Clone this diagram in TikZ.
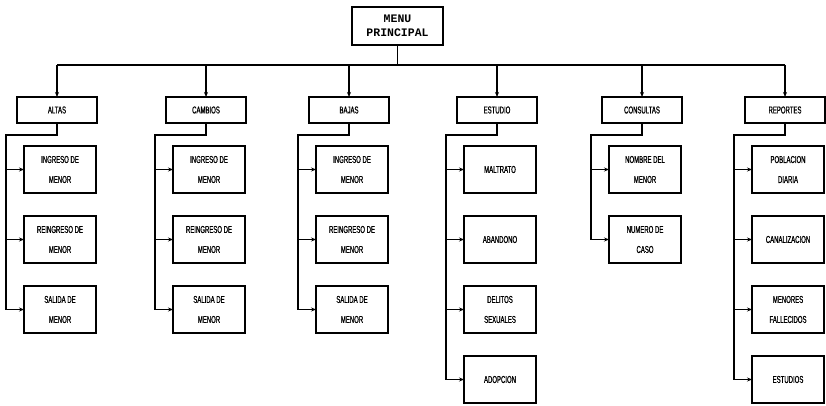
\documentclass[tikz,border=0pt]{standalone}
\usepackage{fontspec}
\newfontfamily\menufont{Liberation Mono}
\newfontfamily\boxfont[FakeStretch=0.6,FakeBold=1]{Liberation Sans}
\usetikzlibrary{arrows.meta, positioning, calc}

\begin{document}
\begin{tikzpicture}[x=1pt,y=1pt,>={Stealth[length=5pt,width=4pt]},node distance=23pt,
every node/.style={draw,line width=1.6pt,align=center,inner sep=0pt,outer sep=0pt},
top/.style={minimum width=80pt,minimum height=26pt,font=\boxfont\fontsize{10}{12}\selectfont},
sub/.style={minimum width=72pt,minimum height=47pt,font=\boxfont\fontsize{10}{20}\selectfont},
conn/.style={line width=1.1pt},
]
\useasboundingbox (0,0) rectangle (826,-406);

\node[minimum width=91pt,minimum height=38pt,font=\menufont\bfseries\fontsize{11.5}{13.5}\selectfont] (nMenu) at (397.5,-26) {MENU\\PRINCIPAL};

\node[top] (nAltas) at (57,-110) {ALTAS};
\node[top] (nCambios) at (206,-110) {CAMBIOS};
\node[top] (nBajas) at (349,-110) {BAJAS};
\node[top] (nEstudio) at (497,-110) {ESTUDIO};
\node[top] (nConsultas) at (642,-110) {CONSULTAS};
\node[top] (nReportes) at (785,-110) {REPORTES};

\node[sub, below=of nAltas, xshift=3pt] (nAltas1) {INGRESO DE\\MENOR};
\node[sub, below=of nAltas1] (nAltas2) {REINGRESO DE\\MENOR};
\node[sub, below=of nAltas2] (nAltas3) {SALIDA DE\\MENOR};

\node[sub, below=of nCambios, xshift=3pt] (nCambios1) {INGRESO DE\\MENOR};
\node[sub, below=of nCambios1] (nCambios2) {REINGRESO DE\\MENOR};
\node[sub, below=of nCambios2] (nCambios3) {SALIDA DE\\MENOR};

\node[sub, below=of nBajas, xshift=3pt] (nBajas1) {INGRESO DE\\MENOR};
\node[sub, below=of nBajas1] (nBajas2) {REINGRESO DE\\MENOR};
\node[sub, below=of nBajas2] (nBajas3) {SALIDA DE\\MENOR};

\node[sub, below=of nEstudio, xshift=3pt] (nEstudio1) {MALTRATO};
\node[sub, below=of nEstudio1] (nEstudio2) {ABANDONO};
\node[sub, below=of nEstudio2] (nEstudio3) {DELITOS\\SEXUALES};
\node[sub, below=of nEstudio3] (nEstudio4) {ADOPCION};

\node[sub, below=of nConsultas, xshift=3pt] (nConsultas1) {NOMBRE DEL\\MENOR};
\node[sub, below=of nConsultas1] (nConsultas2) {NUMERO DE\\CASO};

\node[sub, below=of nReportes, xshift=3pt] (nReportes1) {POBLACION\\DIARIA};
\node[sub, below=of nReportes1] (nReportes2) {CANALIZACION};
\node[sub, below=of nReportes2] (nReportes3) {MENORES\\FALLECIDOS};
\node[sub, below=of nReportes3] (nReportes4) {ESTUDIOS};

% menu to the six options
\draw[conn] (nMenu.south) -- ++(0,-20) coordinate (bar);
\draw[conn] (nAltas.north |- bar) -- (nReportes.north |- bar);
\draw[conn,->] (nAltas.north |- bar) -- (nAltas.north);
\draw[conn,->] (nCambios.north |- bar) -- (nCambios.north);
\draw[conn,->] (nBajas.north |- bar) -- (nBajas.north);
\draw[conn,->] (nEstudio.north |- bar) -- (nEstudio.north);
\draw[conn,->] (nConsultas.north |- bar) -- (nConsultas.north);
\draw[conn,->] (nReportes.north |- bar) -- (nReportes.north);

% altas
\draw[conn] (nAltas.south) -- ++(0,-12) -| ([xshift=-18pt]nAltas3.west);
\draw[conn,->] ([xshift=-18pt]nAltas1.west) -- (nAltas1.west);
\draw[conn,->] ([xshift=-18pt]nAltas2.west) -- (nAltas2.west);
\draw[conn,->] ([xshift=-18pt]nAltas3.west) -- (nAltas3.west);

% cambios
\draw[conn] (nCambios.south) -- ++(0,-12) -| ([xshift=-18pt]nCambios3.west);
\draw[conn,->] ([xshift=-18pt]nCambios1.west) -- (nCambios1.west);
\draw[conn,->] ([xshift=-18pt]nCambios2.west) -- (nCambios2.west);
\draw[conn,->] ([xshift=-18pt]nCambios3.west) -- (nCambios3.west);

% bajas
\draw[conn] (nBajas.south) -- ++(0,-12) -| ([xshift=-18pt]nBajas3.west);
\draw[conn,->] ([xshift=-18pt]nBajas1.west) -- (nBajas1.west);
\draw[conn,->] ([xshift=-18pt]nBajas2.west) -- (nBajas2.west);
\draw[conn,->] ([xshift=-18pt]nBajas3.west) -- (nBajas3.west);

% estudio
\draw[conn] (nEstudio.south) -- ++(0,-12) -| ([xshift=-18pt]nEstudio4.west);
\draw[conn,->] ([xshift=-18pt]nEstudio1.west) -- (nEstudio1.west);
\draw[conn,->] ([xshift=-18pt]nEstudio2.west) -- (nEstudio2.west);
\draw[conn,->] ([xshift=-18pt]nEstudio3.west) -- (nEstudio3.west);
\draw[conn,->] ([xshift=-18pt]nEstudio4.west) -- (nEstudio4.west);

% consultas
\draw[conn] (nConsultas.south) -- ++(0,-12) -| ([xshift=-18pt]nConsultas2.west);
\draw[conn,->] ([xshift=-18pt]nConsultas1.west) -- (nConsultas1.west);
\draw[conn,->] ([xshift=-18pt]nConsultas2.west) -- (nConsultas2.west);

% reportes
\draw[conn] (nReportes.south) -- ++(0,-12) -| ([xshift=-18pt]nReportes4.west);
\draw[conn,->] ([xshift=-18pt]nReportes1.west) -- (nReportes1.west);
\draw[conn,->] ([xshift=-18pt]nReportes2.west) -- (nReportes2.west);
\draw[conn,->] ([xshift=-18pt]nReportes3.west) -- (nReportes3.west);
\draw[conn,->] ([xshift=-18pt]nReportes4.west) -- (nReportes4.west);
\end{tikzpicture}
\end{document}
